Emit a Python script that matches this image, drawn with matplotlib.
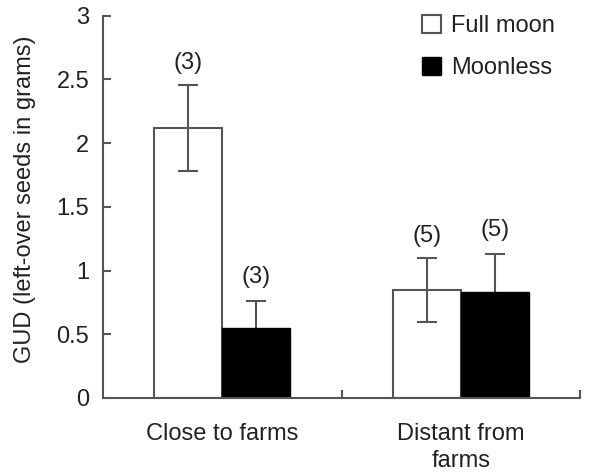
import numpy as np
import matplotlib.pyplot as plt

plt.rcParams['font.family'] = ['Liberation Sans', 'DejaVu Sans']

# GUD values
groups = ['Close to farms', 'Distant from\nfarms']
full_moon = [2.12, 0.85]
full_moon_err = [0.34, 0.25]
moonless = [0.55, 0.83]
moonless_err = [0.21, 0.30]
n_full = ['(3)', '(5)']
n_moonless = ['(3)', '(5)']

edge = '#555555'
txt = '#222222'
fs = 17

fig = plt.figure(figsize=(5.9, 4.73), dpi=100)
ax = fig.add_axes([0.1746, 0.1586, 0.8085, 0.8082])

x = np.arange(len(groups))
w = 0.286

ax.bar(x - w / 2, full_moon, w, color='white', edgecolor=edge, linewidth=1.5,
       label='Full moon', zorder=2)
ax.bar(x + w / 2, moonless, w, color='black', edgecolor='black', linewidth=1.0,
       label='Moonless', zorder=2)
ax.errorbar(x - w / 2, full_moon, yerr=full_moon_err, fmt='none', ecolor=edge,
            elinewidth=1.5, capsize=7, capthick=1.5, zorder=3)
ax.errorbar(x + w / 2, moonless, yerr=moonless_err, fmt='none', ecolor=edge,
            elinewidth=1.5, capsize=7, capthick=1.5, zorder=1)

for i in range(len(groups)):
    ax.text(x[i] - w / 2, full_moon[i] + full_moon_err[i] + 0.17, n_full[i],
            ha='center', va='center', fontsize=fs, color=txt)
    ax.text(x[i] + w / 2, moonless[i] + moonless_err[i] + 0.19, n_moonless[i],
            ha='center', va='center', fontsize=fs, color=txt)

ax.set_xlim(-0.5, 1.5)
ax.set_ylim(0, 3)
ax.set_yticks(np.arange(0, 3.01, 0.5))
ax.set_yticklabels(['0', '0.5', '1', '1.5', '2', '2.5', '3'])
ax.set_xticks(x)
ax.set_xticklabels(groups, linespacing=1.3)
ax.set_xticks([0.5, 1.5], minor=True)

ax.tick_params(axis='y', direction='in', length=6, width=1.5, color=edge,
               labelsize=fs, labelcolor=txt, pad=10)
ax.tick_params(axis='x', which='major', length=0, labelsize=fs,
               labelcolor=txt, pad=18)
ax.tick_params(axis='x', which='minor', direction='in', length=6, width=1.5,
               color=edge)

for s in ['top', 'right']:
    ax.spines[s].set_visible(False)
for s in ['left', 'bottom']:
    ax.spines[s].set_color(edge)
    ax.spines[s].set_linewidth(1.5)

fig.text(25 / 590, 1 - 199 / 473, 'GUD (left-over seeds in grams)',
         rotation=90, ha='center', va='center', fontsize=fs, color=txt)

leg = ax.legend(loc='upper left', bbox_to_anchor=(0.668, 1.0015), frameon=False,
                fontsize=fs, handlelength=0.8, handleheight=0.8,
                handletextpad=0.45, labelspacing=0.82, borderpad=0,
                borderaxespad=0)
for t in leg.get_texts():
    t.set_color(txt)

fig.savefig('out.png', dpi=100)
